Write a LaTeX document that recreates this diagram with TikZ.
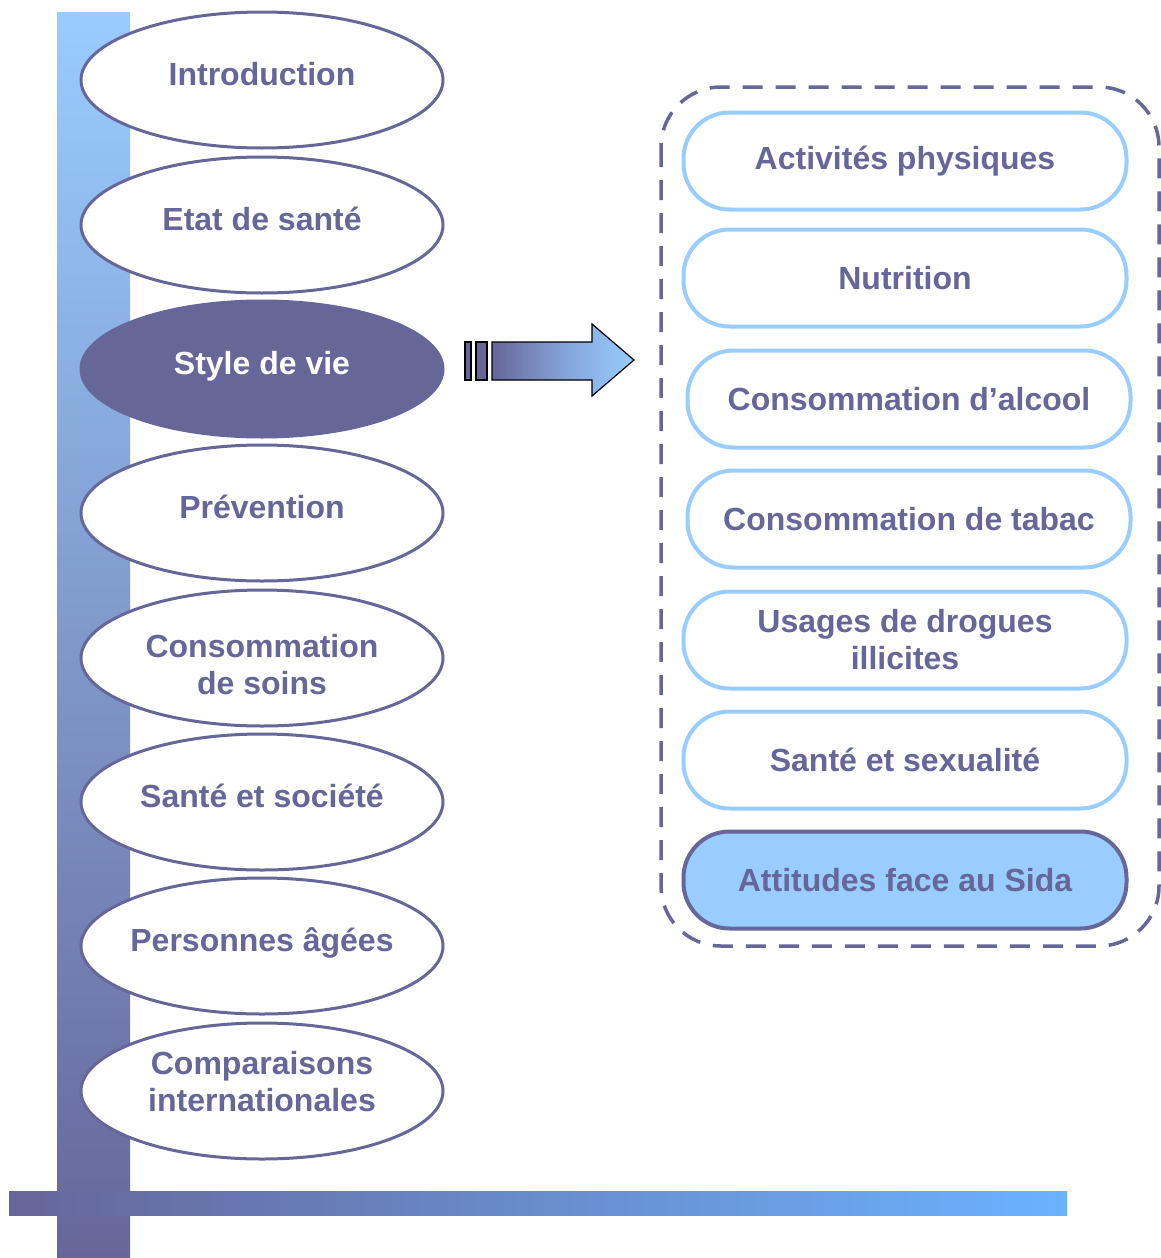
\documentclass[tikz,border=0pt]{standalone}
\usepackage{fontspec}
\setmainfont{Liberation Sans}
\usepackage{tikz}
\usetikzlibrary{shapes.geometric}

\definecolor{ink}{RGB}{102,102,153}
\definecolor{sky}{RGB}{153,204,255}
\definecolor{skydeep}{RGB}{107,178,255}

\begin{document}
\begin{tikzpicture}[x=1pt,y=-1pt]
            \useasboundingbox (0,0) rectangle (1161,1258);
            \tikzset{chapter/.style={ellipse,draw=ink,line width=3pt,fill=white,
                minimum width=362pt,minimum height=136pt,inner ysep=0pt,inner xsep=-14pt,
                align=center,text=ink,font=\fontsize{32}{37}\selectfont\bfseries}};
            \tikzset{oneline/.style={text height=24pt,text depth=14pt}};
            \tikzset{chaptercur/.style={chapter,fill=ink,text=white}};
            \tikzset{theme/.style={rectangle,rounded corners=46pt,draw=sky,line width=4pt,fill=white,
                minimum width=443pt,minimum height=97pt,inner sep=0pt,
                align=center,text=ink,font=\fontsize{32}{37}\selectfont\bfseries}};
            \tikzset{themecur/.style={theme,draw=ink,fill=sky}};

            % axes
            \shade[top color=sky,bottom color=ink] (57,12) rectangle (130,1258);

            % chapters
            \node[chapter,oneline] (intro) at (262,80) {Introduction};
            \node[chapter,oneline] (etat) at (262,225) {Etat de santé};
            \node[chaptercur,oneline] (style) at (262,369) {Style de vie};
            \node[chapter,oneline] (prev) at (262,513) {Prévention};
            \node[chapter] (soins) at (262,658) {\rule{0pt}{36pt}Consommation\\de soins};
            \node[chapter,oneline] (societe) at (262,802) {Santé et société};
            \node[chapter,oneline] (agees) at (262,946) {Personnes âgées};
            \node[chapter] (comp) at (262,1091) {Comparaisons\\internationales\rule[-19pt]{0pt}{0pt}};

            \shade[left color=ink,right color=skydeep] (9,1191) rectangle (1067,1215);

            % arrow
            \draw[black,line width=1.2pt,fill=ink] (465,342) rectangle (471,380);
            \draw[black,line width=1.2pt,fill=ink] (476,342) rectangle (487,380);
            \draw[black,line width=1.2pt,left color=ink,right color=sky,middle color=sky!60!ink]
                (492,342) -- (592,342) -- (592,324) -- (634,360) -- (592,396) -- (592,380) -- (492,380) -- cycle;

            % themes
            \draw[ink,line width=3.5pt,dash pattern=on 20pt off 13pt,rounded corners=60pt]
                (661,87) rectangle (1159,946);
            \node[theme] (sport) at (905,161) {Activités physiques};
            \node[theme] (nutri) at (905,278) {Nutrition};
            \node[theme] (alcool) at (909,399) {Consommation d’alcool};
            \node[theme] (tabac) at (909,519) {Consommation de tabac};
            \node[theme] (drogue) at (905,640) {Usages de drogues\\illicites};
            \node[theme] (sexe) at (905,760) {Santé et sexualité};
            \node[themecur] (sida) at (905,880) {Attitudes face au Sida};
\end{tikzpicture}
\end{document}
